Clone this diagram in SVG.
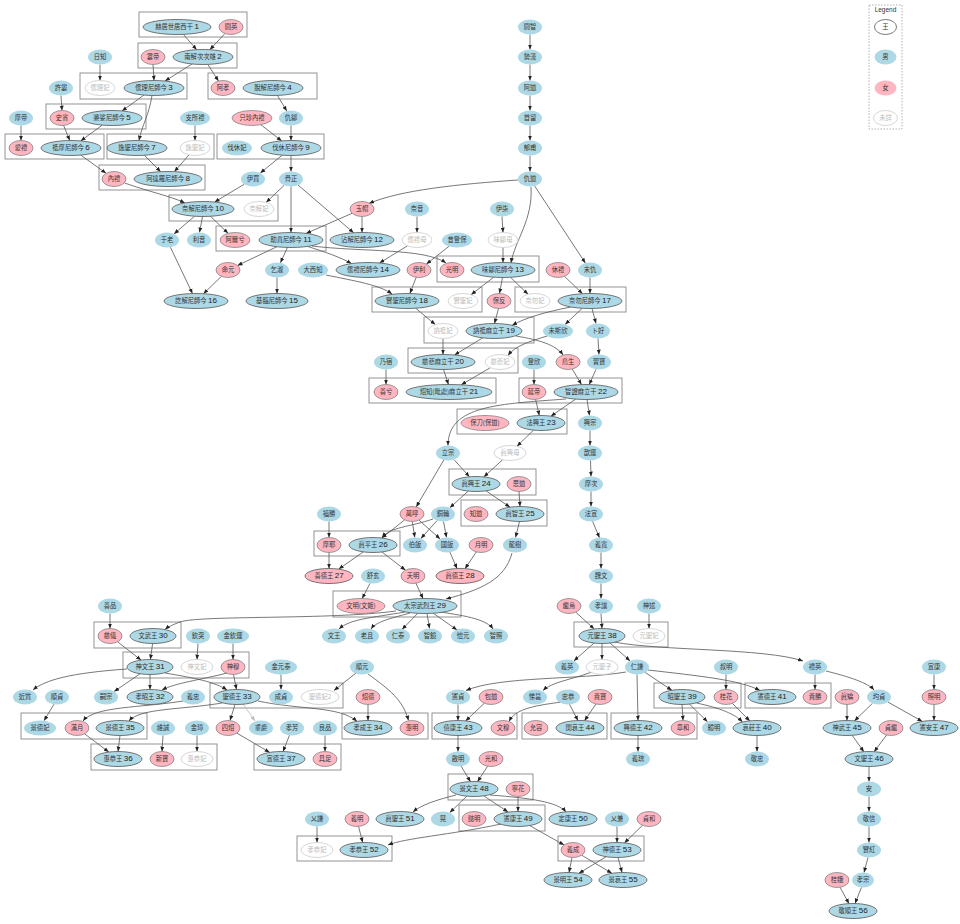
<svg xmlns="http://www.w3.org/2000/svg" width="960" height="924" viewBox="0 0 960 924">
<style>
.b{fill:#add8e6}
.p{fill:#ffb6c1;stroke:#777;stroke-width:0.7}
.k{fill:#add8e6;stroke:#555;stroke-width:0.8}
.kp{fill:#ffb6c1;stroke:#555;stroke-width:0.8}
.u{fill:#fff;stroke:#ccc;stroke-width:0.8}
.lk{fill:#fff;stroke:#555;stroke-width:0.8}
text{font-family:"Noto Sans CJK TC","Noto Sans CJK SC",sans-serif;font-size:6.3px;text-anchor:middle;fill:#333}
.ut{fill:#bbb}
.num{font-family:"Liberation Sans",sans-serif;font-size:8px;fill:#222}
.c{fill:none;stroke:#888;stroke-width:0.9}
.e path{fill:none;stroke:#555;stroke-width:0.8;marker-end:url(#a)}
.e path.g{stroke:#bbb;marker-end:url(#ag)}
</style>
<defs>
<marker id="a" viewBox="0 0 10 10" refX="10" refY="5" markerWidth="5" markerHeight="5" markerUnits="userSpaceOnUse" orient="auto"><path d="M0,1L10,5L0,9z" fill="#222"/></marker>
<marker id="ag" viewBox="0 0 10 10" refX="10" refY="5" markerWidth="5" markerHeight="5" markerUnits="userSpaceOnUse" orient="auto"><path d="M0,1L10,5L0,9z" fill="#bbb"/></marker>
</defs>
<rect width="960" height="924" fill="#fff"/>
<g id="clusters">
<rect class="c" x="139" y="12" width="108" height="25"/>
<rect class="c" x="138" y="43" width="99" height="25"/>
<rect class="c" x="80" y="73" width="107" height="26"/>
<rect class="c" x="208" y="73" width="109" height="26"/>
<rect class="c" x="46" y="104" width="100" height="25"/>
<rect class="c" x="5" y="134" width="99" height="25"/>
<rect class="c" x="107" y="134" width="107" height="25"/>
<rect class="c" x="217" y="134" width="107" height="25"/>
<rect class="c" x="99" y="165" width="106" height="25"/>
<rect class="c" x="169" y="195" width="109" height="26"/>
<rect class="c" x="216" y="226" width="110" height="25"/>
<rect class="c" x="437" y="256" width="102" height="26"/>
<rect class="c" x="372" y="287" width="110" height="25"/>
<rect class="c" x="515" y="287" width="111" height="25"/>
<rect class="c" x="424" y="317" width="110" height="26"/>
<rect class="c" x="408" y="348" width="110" height="25"/>
<rect class="c" x="369" y="378" width="127" height="25"/>
<rect class="c" x="519" y="378" width="103" height="25"/>
<rect class="c" x="457" y="409" width="110" height="25"/>
<rect class="c" x="449" y="469" width="87" height="26"/>
<rect class="c" x="461" y="500" width="86" height="26"/>
<rect class="c" x="314" y="531" width="86" height="25"/>
<rect class="c" x="333" y="591" width="128" height="26"/>
<rect class="c" x="94" y="622" width="87" height="26"/>
<rect class="c" x="574" y="622" width="94" height="25"/>
<rect class="c" x="123" y="652" width="126" height="26"/>
<rect class="c" x="210" y="683" width="133" height="25"/>
<rect class="c" x="654" y="683" width="87" height="25"/>
<rect class="c" x="745" y="683" width="86" height="25"/>
<rect class="c" x="21" y="713" width="126" height="26"/>
<rect class="c" x="342" y="713" width="86" height="26"/>
<rect class="c" x="432" y="713" width="85" height="26"/>
<rect class="c" x="522" y="713" width="85" height="26"/>
<rect class="c" x="611" y="713" width="86" height="26"/>
<rect class="c" x="91" y="744" width="126" height="26"/>
<rect class="c" x="254" y="744" width="87" height="26"/>
<rect class="c" x="448" y="774" width="85" height="26"/>
<rect class="c" x="459" y="805" width="86" height="26"/>
<rect class="c" x="297" y="836" width="95" height="25"/>
<rect class="c" x="558" y="836" width="86" height="25"/>
</g>
<g id="legend">
<rect x="869" y="5" width="33" height="124" fill="none" stroke="#aaa" stroke-width="0.9" stroke-dasharray="1.5,1.5"/>
<text x="885.5" y="12" style="font-family:'Liberation Sans',sans-serif;font-size:6.5px">Legend</text>
<ellipse class="lk" cx="885.5" cy="27" rx="11" ry="7.5"/><text x="885.5" y="29.3">王</text>
<ellipse class="b" cx="885.5" cy="57" rx="11" ry="7.5"/><text x="885.5" y="59.3">男</text>
<ellipse fill="#ffb6c1" cx="885.5" cy="88" rx="11" ry="7.5"/><text x="885.5" y="90.3">女</text>
<ellipse class="u" cx="885.5" cy="118" rx="12" ry="7.5"/><text class="ut" x="885.5" y="120.3">未詳</text>
</g>
<g class="e" id="edges">
<path d="M530,34.5L530,49.5"/>
<path d="M530,64.5L530,80.5"/>
<path d="M530,95.5L530,110.5"/>
<path d="M530,125.5L530,140.5"/>
<path d="M530,155.5L530,171.5"/>
<path d="M183.4,34.4L196.7,49.7"/>
<path d="M225,33.5L209.8,49.7"/>
<path d="M100,64.5L100,80.5"/>
<path d="M153,64.5L154,80.5"/>
<path d="M192,64L165,81"/>
<path d="M207.8,64.4L218.5,81"/>
<path d="M61,95.5L62,110.5"/>
<path d="M144,95L122,111"/>
<path d="M152,95.5C149,115 142,125 139,140.5"/>
<path d="M277.4,95.4L286.8,111"/>
<path d="M21,125.5L21,140.5"/>
<path d="M63.5,125.2L69.8,140.5"/>
<path d="M102.3,125.1L80.7,140.9"/>
<path d="M195,125.5L195,140.5"/>
<path d="M260.8,124.7L281.7,140.9"/>
<path d="M291,125.5L291,140.5"/>
<path d="M80.8,155.1L106.1,173.3"/>
<path d="M144.3,155.3L160.7,171.7"/>
<path d="M189,154.9L174.4,171.6"/>
<path d="M282.2,155.2L260.3,173"/>
<path d="M291,155.5L291,171.5"/>
<path d="M124.6,183C150,192 170,196 184.9,202.9"/>
<path d="M244.3,184.2L214.6,202"/>
<path d="M284.3,185.2L266.1,202.4"/>
<path d="M291,186.5L291,232.5"/>
<path d="M298,185L353.6,232.7"/>
<path d="M518,180C460,184 400,190 369,203.5"/>
<path d="M531,187C533,220 515,240 511,263"/>
<path d="M534.6,185.9L585.4,263.1"/>
<path d="M194.6,216.2L174,233.9"/>
<path d="M202.5,216.5L199.5,232.5"/>
<path d="M210.5,216.3L228.1,233.3"/>
<path d="M352.1,213.3L306.1,233.4"/>
<path d="M362,216.5L362,232.5"/>
<path d="M417,216.5L417,232.5"/>
<path d="M502,216.5L503,232.5"/>
<path d="M276.9,246.7L237.5,265.5"/>
<path d="M287.5,247.4L280.4,262.8"/>
<path d="M307.5,246.4C325,252 340,257 351.5,263.6"/>
<path d="M312,246C360,252 425,248 446,263"/>
<path d="M407.5,245.8L379.5,263"/>
<path d="M449,246.3L426.4,264.1"/>
<path d="M503,247.5L503,262.5"/>
<path d="M221.5,276.3L203.5,293.7"/>
<path d="M170.4,247.2L192.5,293.6"/>
<path d="M277,277.5L277,293.5"/>
<path d="M326,275C355,281 380,285 392,294"/>
<path d="M416.2,277.3L409.9,293.5"/>
<path d="M493.7,277.2L471.1,294.7"/>
<path d="M502.5,277.5L499.5,293.5"/>
<path d="M510.5,277.3L528.1,294.3"/>
<path d="M564.5,276.3L582.5,293.7"/>
<path d="M590,277.5L590,293.5"/>
<path d="M415.7,308.2L435.3,324.6"/>
<path d="M498.5,308.5L494.5,323.5"/>
<path d="M570.8,307C545,312 525,318 512.2,325.3"/>
<path d="M582.3,308.2L565.1,324.4"/>
<path d="M592,308.5L596,323.5"/>
<path d="M443,338.5L443,354.5"/>
<path d="M482.7,337.9L454.5,355"/>
<path d="M516,336C540,340 556,345 563,355"/>
<path d="M547,336C528,342 515,346 508,355.5"/>
<path d="M598,338.5L599,354.5"/>
<path d="M386,369.5L386,384.5"/>
<path d="M443.5,369.5L448.5,384.5"/>
<path d="M490.3,367.7L461.2,384.8"/>
<path d="M534,369.5L534,384.5"/>
<path d="M572.2,369L581.5,384.6"/>
<path d="M596,369.4L589.2,384.6"/>
<path d="M535.6,399.3L539.3,415.5"/>
<path d="M575.7,399.1L550.9,416.2"/>
<path d="M587,399.5L589.5,415.5"/>
<path d="M566,399C500,404 448,405 448,445.5"/>
<path d="M533.6,430.1L517,446.2"/>
<path d="M590,430.5L590,445.5"/>
<path d="M453.9,459.5L469.5,476.8"/>
<path d="M443.8,460L416.2,506.9"/>
<path d="M502.7,459.7L483.8,476.9"/>
<path d="M590.5,460.5L591,476.5"/>
<path d="M468.2,491.1L449.8,507.8"/>
<path d="M486,490.8L510,507.2"/>
<path d="M519,491.5L520,506.5"/>
<path d="M591,491.5L591,506.5"/>
<path d="M329,521.5L329,537.5"/>
<path d="M404.6,519.9L381.8,538"/>
<path d="M412.3,521.5L414.8,537.5"/>
<path d="M418.9,520.1L440.1,538.9"/>
<path d="M433,519C410,527 390,527 382,537.5"/>
<path d="M437.1,520.5L420.9,538.5"/>
<path d="M443.5,521.5L446.5,537.5"/>
<path d="M519.5,521.5L515.5,537.5"/>
<path d="M592.5,521.2L599.5,537.7"/>
<path d="M476.3,551.9L465,568.7"/>
<path d="M449.9,552.1L457.1,568.7"/>
<path d="M329,552.5L329,568.5"/>
<path d="M363.3,551.9L338.7,569.1"/>
<path d="M382,552L405.5,570.2"/>
<path d="M601,552.5L601,568.5"/>
<path d="M370,583.3L362.2,598.6"/>
<path d="M415.9,583.2L423.1,598.7"/>
<path d="M512,553C505,580 480,590 446,599"/>
<path d="M601,583.5L601,598.5"/>
<path d="M110,613.5L110,628.5"/>
<path d="M396,611C330,620 200,615 180,622C172,625 168,627 165,629.5"/>
<path d="M405,612C370,618 350,619 339,629"/>
<path d="M410,613C388,619 376,622 371,629"/>
<path d="M418,613L402,629.5"/>
<path d="M427,613.5L429.5,628.5"/>
<path d="M433,613L457,630"/>
<path d="M440,612C468,616 487,620 493,629"/>
<path d="M575.8,612.2L594.2,629"/>
<path d="M601,613.5L602,628.5"/>
<path d="M649,613.5L649,628.5"/>
<path d="M117.5,641.8L141.1,660.1"/>
<path d="M152.6,643.5L150.4,659.5"/>
<path d="M198,643.5L197,659.5"/>
<path d="M233,643.5L233,659.5"/>
<path d="M594,643L573.9,660.9"/>
<path d="M602,643.5L602,659.5"/>
<path d="M610,643L630.1,660.9"/>
<path d="M614,642C660,651 765,648 803,661"/>
<path d="M281,674.5L281,689.5"/>
<path d="M356,673L334,690.5"/>
<path d="M368,674C390,690 403,700 408.5,720.5"/>
<path d="M127,669C70,673 45,680 33,690"/>
<path d="M140.1,673.8L114.1,691.5"/>
<path d="M150,674.5L150,689.5"/>
<path d="M165,673C195,678 215,682 227,690"/>
<path d="M227,673C200,680 175,683 162,690"/>
<path d="M233.5,674.5L236.5,689.5"/>
<path d="M592,672C570,680 552,682 543,690.5"/>
<path d="M626,672C580,680 500,676 466,690.5"/>
<path d="M645.1,672.4L671.9,690.3"/>
<path d="M648,670C700,676 740,680 760,690.5"/>
<path d="M637,674.5L638,720.5"/>
<path d="M726,674.5L726,689.5"/>
<path d="M815,674.5L815,689.5"/>
<path d="M826,671C850,677 868,683 874,690"/>
<path d="M934,674.5L934,689.5"/>
<path d="M54.1,704.1L44,720.7"/>
<path d="M183,701C140,708 95,706 83,721"/>
<path d="M222,703C180,710 140,708 129,721"/>
<path d="M235,704.5L230,720.5"/>
<path class="g" d="M243,704L255,721"/>
<path d="M258,701C300,710 340,706 357,721.5"/>
<path d="M368,704.5L368,720.5"/>
<path d="M458,704.5L458,720.5"/>
<path d="M484.4,703.2L465.6,720.9"/>
<path d="M562,702C530,706 515,710 509,721.5"/>
<path d="M569.5,704.3L578,720.6"/>
<path d="M596,704L584.5,720.7"/>
<path d="M682,704.5L683,720.5"/>
<path d="M689.4,704.1L707.5,721.7"/>
<path d="M696.5,703C720,708 735,714 742.5,722"/>
<path d="M732.3,703.3L749.9,721"/>
<path d="M847,704.5L847,720.5"/>
<path d="M872.5,703.3L854.4,720.9"/>
<path d="M887.9,702L922.3,721.4"/>
<path d="M934,704.5L934,720.5"/>
<path d="M84.6,733.8L108.8,752"/>
<path d="M120,735.5L118,751.5"/>
<path d="M163,735.5L162,751.5"/>
<path d="M197,735.5L197,751.5"/>
<path d="M236.8,733.1L269.7,752.4"/>
<path d="M289.5,735.2L283,751.6"/>
<path d="M325,735.5L325,751.5"/>
<path d="M458,735.5L458,751.5"/>
<path d="M638,735.5L638,751.5"/>
<path d="M757,735.5L757,751.5"/>
<path d="M852.1,735.2L863.9,751.8"/>
<path d="M886.9,734.6L874.1,751.8"/>
<path d="M461,766L470.5,781.8"/>
<path d="M487.6,766.2L477.5,781.8"/>
<path d="M869,766.5L869,781.5"/>
<path d="M869,796.5L869,811.5"/>
<path d="M869,826.5L869,842.5"/>
<path d="M868,857.5L864,872.5"/>
<path d="M861.5,887.3L855,903.5"/>
<path d="M840,887.2L849,903.7"/>
<path d="M456,795C436,800 421,805 413,812"/>
<path d="M467,796L449.8,812.6"/>
<path d="M484,796L508,812"/>
<path d="M490,795C530,798 558,802 566,812"/>
<path d="M518,796.5L518,811.5"/>
<path d="M317,826.5L317,842.5"/>
<path d="M358.5,826.3L362.7,842.5"/>
<path d="M501,824C450,835 405,838 388,845"/>
<path d="M529.7,825.6L564.1,845"/>
<path d="M617,826.5L617,842.5"/>
<path d="M642.5,825.3L624.4,843"/>
<path d="M572,857.5L569,872.5"/>
<path d="M581.7,855.2L611.9,873.3"/>
<path d="M606.1,856.7L578.9,873.3"/>
<path d="M618,857.5L622,872.5"/>
</g>
<g id="nodes">
<g id="n1"><ellipse class="k" cx="177" cy="27" rx="34" ry="7.5"/><text x="177" y="29.3">赫居世居西干 <tspan class="num">1</tspan></text></g>
<g id="ayeong"><ellipse class="p" cx="231" cy="27" rx="12" ry="7.5"/><text x="231" y="29.3">閼英</text></g>
<g id="alji"><ellipse class="b" cx="530" cy="27" rx="12" ry="7.5"/><text x="530" y="29.3">閼智</text></g>
<g id="ilji"><ellipse class="b" cx="100" cy="57" rx="12" ry="7.5"/><text x="100" y="59.3">日知</text></g>
<g id="unje"><ellipse class="p" cx="153" cy="57" rx="12" ry="7.5"/><text x="153" y="59.3">雲帝</text></g>
<g id="n2"><ellipse class="k" cx="203" cy="57" rx="30" ry="7.5"/><text x="203" y="59.3">南解次次雄 <tspan class="num">2</tspan></text></g>
<g id="sehan"><ellipse class="b" cx="530" cy="57" rx="12" ry="7.5"/><text x="530" y="59.3">勢漢</text></g>
<g id="heoru"><ellipse class="b" cx="61" cy="88" rx="12" ry="7.5"/><text x="61" y="90.3">許婁</text></g>
<g id="yurib"><ellipse class="u" cx="100" cy="88" rx="15" ry="7.5"/><text class="ut" x="100" y="90.3">儒理妃</text></g>
<g id="n3"><ellipse class="k" cx="154" cy="88" rx="30" ry="7.5"/><text x="154" y="90.3">儒理尼師今 <tspan class="num">3</tspan></text></g>
<g id="ahyo"><ellipse class="p" cx="223" cy="88" rx="12" ry="7.5"/><text x="223" y="90.3">阿孝</text></g>
<g id="n4"><ellipse class="k" cx="273" cy="88" rx="30" ry="7.5"/><text x="273" y="90.3">脫解尼師今 <tspan class="num">4</tspan></text></g>
<g id="ado"><ellipse class="b" cx="530" cy="88" rx="12" ry="7.5"/><text x="530" y="90.3">阿道</text></g>
<g id="maje"><ellipse class="b" cx="21" cy="118" rx="12" ry="7.5"/><text x="21" y="120.3">摩帝</text></g>
<g id="saseong"><ellipse class="p" cx="62" cy="118" rx="12" ry="7.5"/><text x="62" y="120.3">史省</text></g>
<g id="n5"><ellipse class="k" cx="112" cy="118" rx="30" ry="7.5"/><text x="112" y="120.3">婆娑尼師今 <tspan class="num">5</tspan></text></g>
<g id="jisorye"><ellipse class="b" cx="195" cy="118" rx="15" ry="7.5"/><text x="195" y="120.3">支所禮</text></g>
<g id="jijin"><ellipse class="p" cx="252" cy="118" rx="20" ry="7.5"/><text x="252" y="120.3">只珍內禮</text></g>
<g id="guchu"><ellipse class="b" cx="291" cy="118" rx="12" ry="7.5"/><text x="291" y="120.3">仇鄒</text></g>
<g id="suryu"><ellipse class="b" cx="530" cy="118" rx="12" ry="7.5"/><text x="530" y="120.3">首留</text></g>
<g id="aerye"><ellipse class="p" cx="21" cy="148" rx="12" ry="7.5"/><text x="21" y="150.3">愛禮</text></g>
<g id="n6"><ellipse class="k" cx="71" cy="148" rx="30" ry="7.5"/><text x="71" y="150.3">祗摩尼師今 <tspan class="num">6</tspan></text></g>
<g id="n7"><ellipse class="k" cx="137" cy="148" rx="30" ry="7.5"/><text x="137" y="150.3">逸聖尼師今 <tspan class="num">7</tspan></text></g>
<g id="ilseongb"><ellipse class="u" cx="195" cy="148" rx="15" ry="7.5"/><text class="ut" x="195" y="150.3">逸聖妃</text></g>
<g id="beolhyub"><ellipse class="b" cx="237" cy="148" rx="15" ry="7.5"/><text x="237" y="150.3">伐休妃</text></g>
<g id="n9"><ellipse class="k" cx="291" cy="148" rx="30" ry="7.5"/><text x="291" y="150.3">伐休尼師今 <tspan class="num">9</tspan></text></g>
<g id="ukbo"><ellipse class="b" cx="530" cy="148" rx="12" ry="7.5"/><text x="530" y="150.3">郁甫</text></g>
<g id="naerye"><ellipse class="p" cx="114" cy="179" rx="12" ry="7.5"/><text x="114" y="181.3">內禮</text></g>
<g id="n8"><ellipse class="k" cx="168" cy="179" rx="34" ry="7.5"/><text x="168" y="181.3">阿達羅尼師今 <tspan class="num">8</tspan></text></g>
<g id="imae"><ellipse class="b" cx="253" cy="179" rx="12" ry="7.5"/><text x="253" y="181.3">伊買</text></g>
<g id="goljeong"><ellipse class="b" cx="291" cy="179" rx="12" ry="7.5"/><text x="291" y="181.3">骨正</text></g>
<g id="gudo"><ellipse class="b" cx="530" cy="179" rx="12" ry="7.5"/><text x="530" y="181.3">仇道</text></g>
<g id="n10"><ellipse class="k" cx="203" cy="209" rx="31" ry="7.5"/><text x="203" y="211.3">奈解尼師今 <tspan class="num">10</tspan></text></g>
<g id="naehaeb"><ellipse class="u" cx="259" cy="209" rx="15" ry="7.5"/><text class="ut" x="259" y="211.3">奈解妃</text></g>
<g id="okmo"><ellipse class="p" cx="362" cy="209" rx="12" ry="7.5"/><text x="362" y="211.3">玉帽</text></g>
<g id="naeeum"><ellipse class="b" cx="417" cy="209" rx="12" ry="7.5"/><text x="417" y="211.3">奈音</text></g>
<g id="ichil"><ellipse class="b" cx="502" cy="209" rx="12" ry="7.5"/><text x="502" y="211.3">伊柒</text></g>
<g id="uro"><ellipse class="b" cx="167" cy="240" rx="12" ry="7.5"/><text x="167" y="242.3">于老</text></g>
<g id="ieum"><ellipse class="b" cx="199" cy="240" rx="12" ry="7.5"/><text x="199" y="242.3">利音</text></g>
<g id="airhye"><ellipse class="p" cx="235" cy="240" rx="15" ry="7.5"/><text x="235" y="242.3">阿爾兮</text></g>
<g id="n11"><ellipse class="k" cx="291" cy="240" rx="32" ry="7.5"/><text x="291" y="242.3">助賁尼師今 <tspan class="num">11</tspan></text></g>
<g id="n12"><ellipse class="k" cx="362" cy="240" rx="32" ry="7.5"/><text x="362" y="242.3">沾解尼師今 <tspan class="num">12</tspan></text></g>
<g id="yuryemo"><ellipse class="u" cx="417" cy="240" rx="15" ry="7.5"/><text class="ut" x="417" y="242.3">儒禮母</text></g>
<g id="seokdeungbo"><ellipse class="b" cx="457" cy="240" rx="15" ry="7.5"/><text x="457" y="242.3">昔登保</text></g>
<g id="michumo"><ellipse class="u" cx="503" cy="240" rx="15" ry="7.5"/><text class="ut" x="503" y="242.3">味鄒母</text></g>
<g id="myeongwon"><ellipse class="p" cx="228" cy="270" rx="12" ry="7.5"/><text x="228" y="272.3">命元</text></g>
<g id="geolsuk"><ellipse class="b" cx="277" cy="270" rx="12" ry="7.5"/><text x="277" y="272.3">乞淑</text></g>
<g id="daeseoji"><ellipse class="b" cx="313" cy="270" rx="15" ry="7.5"/><text x="313" y="272.3">大西知</text></g>
<g id="n14"><ellipse class="k" cx="368" cy="270" rx="32" ry="7.5"/><text x="368" y="272.3">儒禮尼師今 <tspan class="num">14</tspan></text></g>
<g id="iri"><ellipse class="p" cx="419" cy="270" rx="12" ry="7.5"/><text x="419" y="272.3">伊利</text></g>
<g id="gwangmyeong"><ellipse class="p" cx="452" cy="270" rx="12" ry="7.5"/><text x="452" y="272.3">光明</text></g>
<g id="n13"><ellipse class="k" cx="503" cy="270" rx="32" ry="7.5"/><text x="503" y="272.3">味鄒尼師今 <tspan class="num">13</tspan></text></g>
<g id="hyurye"><ellipse class="p" cx="558" cy="270" rx="12" ry="7.5"/><text x="558" y="272.3">休禮</text></g>
<g id="malgu"><ellipse class="b" cx="590" cy="270" rx="12" ry="7.5"/><text x="590" y="272.3">末仇</text></g>
<g id="n16"><ellipse class="k" cx="196" cy="301" rx="32" ry="7.5"/><text x="196" y="303.3">訖解尼師今 <tspan class="num">16</tspan></text></g>
<g id="n15"><ellipse class="k" cx="277" cy="301" rx="31" ry="7.5"/><text x="277" y="303.3">基臨尼師今 <tspan class="num">15</tspan></text></g>
<g id="n18"><ellipse class="k" cx="407" cy="301" rx="32" ry="7.5"/><text x="407" y="303.3">實聖尼師今 <tspan class="num">18</tspan></text></g>
<g id="silseongb"><ellipse class="u" cx="463" cy="301" rx="15" ry="7.5"/><text class="ut" x="463" y="303.3">實聖妃</text></g>
<g id="boban"><ellipse class="p" cx="499" cy="301" rx="12" ry="7.5"/><text x="499" y="303.3">保反</text></g>
<g id="naemulb"><ellipse class="u" cx="535" cy="301" rx="15" ry="7.5"/><text class="ut" x="535" y="303.3">奈勿妃</text></g>
<g id="n17"><ellipse class="k" cx="590" cy="301" rx="32" ry="7.5"/><text x="590" y="303.3">奈勿尼師今 <tspan class="num">17</tspan></text></g>
<g id="nuljib"><ellipse class="u" cx="443" cy="331" rx="15" ry="7.5"/><text class="ut" x="443" y="333.3">訥祗妃</text></g>
<g id="n19"><ellipse class="k" cx="494" cy="331" rx="28" ry="7.5"/><text x="494" y="333.3">訥祗麻立干 <tspan class="num">19</tspan></text></g>
<g id="misaheun"><ellipse class="b" cx="558" cy="331" rx="15" ry="7.5"/><text x="558" y="333.3">未斯欣</text></g>
<g id="bokho"><ellipse class="b" cx="598" cy="331" rx="12" ry="7.5"/><text x="598" y="333.3">卜好</text></g>
<g id="naesuk"><ellipse class="b" cx="386" cy="362" rx="12" ry="7.5"/><text x="386" y="364.3">乃宿</text></g>
<g id="n20"><ellipse class="k" cx="443" cy="362" rx="32" ry="7.5"/><text x="443" y="364.3">慈悲麻立干 <tspan class="num">20</tspan></text></g>
<g id="jabib"><ellipse class="u" cx="500" cy="362" rx="15" ry="7.5"/><text class="ut" x="500" y="364.3">慈悲妃</text></g>
<g id="deungheun"><ellipse class="b" cx="534" cy="362" rx="12" ry="7.5"/><text x="534" y="364.3">登欣</text></g>
<g id="josaeng"><ellipse class="p" cx="568" cy="362" rx="12" ry="7.5"/><text x="568" y="364.3">鳥生</text></g>
<g id="seupbo"><ellipse class="b" cx="599" cy="362" rx="12" ry="7.5"/><text x="599" y="364.3">習寶</text></g>
<g id="seonhye"><ellipse class="p" cx="386" cy="392" rx="12" ry="7.5"/><text x="386" y="394.3">善兮</text></g>
<g id="n21"><ellipse class="k" cx="449" cy="392" rx="43" ry="7.5"/><text x="449" y="394.3">炤知(毗處)麻立干 <tspan class="num">21</tspan></text></g>
<g id="yeonje"><ellipse class="p" cx="534" cy="392" rx="12" ry="7.5"/><text x="534" y="394.3">延帝</text></g>
<g id="n22"><ellipse class="k" cx="586" cy="392" rx="32" ry="7.5"/><text x="586" y="394.3">智證麻立干 <tspan class="num">22</tspan></text></g>
<g id="bodo"><ellipse class="p" cx="485" cy="423" rx="24" ry="7.5"/><text x="485" y="425.3">保刀(保道)</text></g>
<g id="n23"><ellipse class="k" cx="541" cy="423" rx="24" ry="7.5"/><text x="541" y="425.3">法興王 <tspan class="num">23</tspan></text></g>
<g id="heungjong"><ellipse class="b" cx="590" cy="423" rx="12" ry="7.5"/><text x="590" y="425.3">興宗</text></g>
<g id="ipjong"><ellipse class="b" cx="448" cy="453" rx="12" ry="7.5"/><text x="448" y="455.3">立宗</text></g>
<g id="jinheungmo"><ellipse class="u" cx="510" cy="453" rx="16" ry="7.5"/><text class="ut" x="510" y="455.3">眞興母</text></g>
<g id="heumun"><ellipse class="b" cx="590" cy="453" rx="12" ry="7.5"/><text x="590" y="455.3">歆運</text></g>
<g id="n24"><ellipse class="k" cx="476" cy="484" rx="24" ry="7.5"/><text x="476" y="486.3">眞興王 <tspan class="num">24</tspan></text></g>
<g id="sado"><ellipse class="p" cx="519" cy="484" rx="12" ry="7.5"/><text x="519" y="486.3">思道</text></g>
<g id="macha"><ellipse class="b" cx="591" cy="484" rx="12" ry="7.5"/><text x="591" y="486.3">摩次</text></g>
<g id="boksung"><ellipse class="b" cx="329" cy="514" rx="12" ry="7.5"/><text x="329" y="516.3">福勝</text></g>
<g id="manho"><ellipse class="p" cx="412" cy="514" rx="12" ry="7.5"/><text x="412" y="516.3">萬呼</text></g>
<g id="dongnyun"><ellipse class="b" cx="443" cy="514" rx="12" ry="7.5"/><text x="443" y="516.3">銅輪</text></g>
<g id="jido"><ellipse class="p" cx="476" cy="514" rx="12" ry="7.5"/><text x="476" y="516.3">知道</text></g>
<g id="n25"><ellipse class="k" cx="520" cy="514" rx="24" ry="7.5"/><text x="520" y="516.3">眞智王 <tspan class="num">25</tspan></text></g>
<g id="beopseon"><ellipse class="b" cx="591" cy="514" rx="12" ry="7.5"/><text x="591" y="516.3">法宣</text></g>
<g id="maya"><ellipse class="p" cx="329" cy="545" rx="12" ry="7.5"/><text x="329" y="547.3">摩耶</text></g>
<g id="n26"><ellipse class="k" cx="373" cy="545" rx="24" ry="7.5"/><text x="373" y="547.3">眞平王 <tspan class="num">26</tspan></text></g>
<g id="baekban"><ellipse class="b" cx="415" cy="545" rx="12" ry="7.5"/><text x="415" y="547.3">伯飯</text></g>
<g id="gukban"><ellipse class="b" cx="447" cy="545" rx="12" ry="7.5"/><text x="447" y="547.3">國飯</text></g>
<g id="wolmyeong"><ellipse class="p" cx="481" cy="545" rx="12" ry="7.5"/><text x="481" y="547.3">月明</text></g>
<g id="yongsu"><ellipse class="b" cx="515" cy="545" rx="12" ry="7.5"/><text x="515" y="547.3">龍樹</text></g>
<g id="uigwan"><ellipse class="b" cx="601" cy="545" rx="12" ry="7.5"/><text x="601" y="547.3">義寬</text></g>
<g id="n27"><ellipse class="kp" cx="329" cy="576" rx="24" ry="7.5"/><text x="329" y="578.3">善德王 <tspan class="num">27</tspan></text></g>
<g id="seohyeon"><ellipse class="b" cx="373" cy="576" rx="12" ry="7.5"/><text x="373" y="578.3">舒玄</text></g>
<g id="cheonmyeong"><ellipse class="p" cx="413" cy="576" rx="12" ry="7.5"/><text x="413" y="578.3">天明</text></g>
<g id="n28"><ellipse class="kp" cx="460" cy="576" rx="24" ry="7.5"/><text x="460" y="578.3">眞德王 <tspan class="num">28</tspan></text></g>
<g id="wimun"><ellipse class="b" cx="601" cy="576" rx="12" ry="7.5"/><text x="601" y="578.3">魏文</text></g>
<g id="seonpum"><ellipse class="b" cx="110" cy="606" rx="12" ry="7.5"/><text x="110" y="608.3">善品</text></g>
<g id="munmyeong"><ellipse class="p" cx="361" cy="606" rx="24" ry="7.5"/><text x="361" y="608.3">文明(文姬)</text></g>
<g id="n29"><ellipse class="k" cx="425" cy="606" rx="32" ry="7.5"/><text x="425" y="608.3">太宗武烈王 <tspan class="num">29</tspan></text></g>
<g id="gyeo"><ellipse class="p" cx="569" cy="606" rx="12" ry="7.5"/><text x="569" y="608.3">繼烏</text></g>
<g id="hyoyang"><ellipse class="b" cx="601" cy="606" rx="12" ry="7.5"/><text x="601" y="608.3">孝讓</text></g>
<g id="sinsul"><ellipse class="b" cx="649" cy="606" rx="12" ry="7.5"/><text x="649" y="608.3">神述</text></g>
<g id="jaui"><ellipse class="p" cx="110" cy="636" rx="12" ry="7.5"/><text x="110" y="638.3">慈儀</text></g>
<g id="n30"><ellipse class="k" cx="153" cy="636" rx="23" ry="7.5"/><text x="153" y="638.3">文武王 <tspan class="num">30</tspan></text></g>
<g id="heumdol"><ellipse class="b" cx="198" cy="636" rx="12" ry="7.5"/><text x="198" y="638.3">欽突</text></g>
<g id="kimheumun"><ellipse class="b" cx="233" cy="636" rx="16" ry="7.5"/><text x="233" y="638.3">金欽運</text></g>
<g id="munwang"><ellipse class="b" cx="334" cy="636" rx="12" ry="7.5"/><text x="334" y="638.3">文王</text></g>
<g id="nocha"><ellipse class="b" cx="367" cy="636" rx="12" ry="7.5"/><text x="367" y="638.3">老且</text></g>
<g id="intae"><ellipse class="b" cx="398" cy="636" rx="12" ry="7.5"/><text x="398" y="638.3">仁泰</text></g>
<g id="jigyeong"><ellipse class="b" cx="430" cy="636" rx="12" ry="7.5"/><text x="430" y="638.3">智鏡</text></g>
<g id="gaewon"><ellipse class="b" cx="463" cy="636" rx="12" ry="7.5"/><text x="463" y="638.3">愷元</text></g>
<g id="jijo"><ellipse class="b" cx="496" cy="636" rx="12" ry="7.5"/><text x="496" y="638.3">智照</text></g>
<g id="n38"><ellipse class="k" cx="602" cy="636" rx="23" ry="7.5"/><text x="602" y="638.3">元聖王 <tspan class="num">38</tspan></text></g>
<g id="wonseongb"><ellipse class="u" cx="649" cy="636" rx="16" ry="7.5"/><text class="ut" x="649" y="638.3">元聖妃</text></g>
<g id="n31"><ellipse class="k" cx="150" cy="667" rx="23" ry="7.5"/><text x="150" y="669.3">神文王 <tspan class="num">31</tspan></text></g>
<g id="sinmunb"><ellipse class="u" cx="197" cy="667" rx="16" ry="7.5"/><text class="ut" x="197" y="669.3">神文妃</text></g>
<g id="sinmok"><ellipse class="p" cx="233" cy="667" rx="12" ry="7.5"/><text x="233" y="669.3">神穆</text></g>
<g id="wontae"><ellipse class="b" cx="281" cy="667" rx="16" ry="7.5"/><text x="281" y="669.3">金元泰</text></g>
<g id="sunwon"><ellipse class="b" cx="362" cy="667" rx="12" ry="7.5"/><text x="362" y="669.3">順元</text></g>
<g id="uiyeong"><ellipse class="b" cx="567" cy="667" rx="12" ry="7.5"/><text x="567" y="669.3">義英</text></g>
<g id="wonseongja"><ellipse class="u" cx="602" cy="667" rx="16" ry="7.5"/><text class="ut" x="602" y="669.3">元聖子</text></g>
<g id="ingyeom"><ellipse class="b" cx="637" cy="667" rx="12" ry="7.5"/><text x="637" y="669.3">仁謙</text></g>
<g id="sukmyeong"><ellipse class="b" cx="726" cy="667" rx="12" ry="7.5"/><text x="726" y="669.3">叔明</text></g>
<g id="yeyeong"><ellipse class="b" cx="815" cy="667" rx="12" ry="7.5"/><text x="815" y="669.3">禮英</text></g>
<g id="seongang"><ellipse class="b" cx="934" cy="667" rx="12" ry="7.5"/><text x="934" y="669.3">宣康</text></g>
<g id="geunjil"><ellipse class="b" cx="25" cy="697" rx="12" ry="7.5"/><text x="25" y="699.3">近質</text></g>
<g id="sunjeong"><ellipse class="b" cx="57" cy="697" rx="12" ry="7.5"/><text x="57" y="699.3">順貞</text></g>
<g id="sajong"><ellipse class="b" cx="106" cy="697" rx="12" ry="7.5"/><text x="106" y="699.3">嗣宗</text></g>
<g id="n32"><ellipse class="k" cx="150" cy="697" rx="23" ry="7.5"/><text x="150" y="699.3">孝昭王 <tspan class="num">32</tspan></text></g>
<g id="uichung"><ellipse class="b" cx="193" cy="697" rx="12" ry="7.5"/><text x="193" y="699.3">義忠</text></g>
<g id="n33"><ellipse class="k" cx="237" cy="697" rx="23" ry="7.5"/><text x="237" y="699.3">聖德王 <tspan class="num">33</tspan></text></g>
<g id="seongjeong"><ellipse class="b" cx="281" cy="697" rx="12" ry="7.5"/><text x="281" y="699.3">成貞</text></g>
<g id="seongdeokb2"><ellipse class="u" cx="320" cy="697" rx="19" ry="7.5"/><text class="ut" x="320" y="699.3">聖德妃2</text></g>
<g id="sodeok"><ellipse class="p" cx="368" cy="697" rx="12" ry="7.5"/><text x="368" y="699.3">炤德</text></g>
<g id="heonjeong"><ellipse class="b" cx="458" cy="697" rx="12" ry="7.5"/><text x="458" y="699.3">憲貞</text></g>
<g id="podo"><ellipse class="p" cx="491" cy="697" rx="12" ry="7.5"/><text x="491" y="699.3">包道</text></g>
<g id="jeong"><ellipse class="b" cx="535" cy="697" rx="12" ry="7.5"/><text x="535" y="699.3">悌邕</text></g>
<g id="chunggong"><ellipse class="b" cx="568" cy="697" rx="12" ry="7.5"/><text x="568" y="699.3">忠恭</text></g>
<g id="gwibo"><ellipse class="p" cx="600" cy="697" rx="12" ry="7.5"/><text x="600" y="699.3">貴寶</text></g>
<g id="n39"><ellipse class="k" cx="682" cy="697" rx="23" ry="7.5"/><text x="682" y="699.3">昭聖王 <tspan class="num">39</tspan></text></g>
<g id="gyehwa"><ellipse class="p" cx="726" cy="697" rx="12" ry="7.5"/><text x="726" y="699.3">桂花</text></g>
<g id="n41"><ellipse class="k" cx="772" cy="697" rx="24" ry="7.5"/><text x="772" y="699.3">憲德王 <tspan class="num">41</tspan></text></g>
<g id="gwiseung"><ellipse class="p" cx="815" cy="697" rx="12" ry="7.5"/><text x="815" y="699.3">貴勝</text></g>
<g id="jingyo"><ellipse class="p" cx="847" cy="697" rx="12" ry="7.5"/><text x="847" y="699.3">眞矯</text></g>
<g id="gyunjeong"><ellipse class="b" cx="879" cy="697" rx="12" ry="7.5"/><text x="879" y="699.3">均貞</text></g>
<g id="jomyeong"><ellipse class="p" cx="934" cy="697" rx="12" ry="7.5"/><text x="934" y="699.3">照明</text></g>
<g id="gyeongdeokb"><ellipse class="b" cx="40" cy="728" rx="16" ry="7.5"/><text x="40" y="730.3">景德妃</text></g>
<g id="manwol"><ellipse class="p" cx="77" cy="728" rx="12" ry="7.5"/><text x="77" y="730.3">滿月</text></g>
<g id="n35"><ellipse class="k" cx="120" cy="728" rx="24" ry="7.5"/><text x="120" y="730.3">景德王 <tspan class="num">35</tspan></text></g>
<g id="yuseong"><ellipse class="b" cx="163" cy="728" rx="12" ry="7.5"/><text x="163" y="730.3">維誠</text></g>
<g id="kimjang"><ellipse class="b" cx="197" cy="728" rx="12" ry="7.5"/><text x="197" y="730.3">金璋</text></g>
<g id="sajo"><ellipse class="p" cx="228" cy="728" rx="12" ry="7.5"/><text x="228" y="730.3">四炤</text></g>
<g id="junggyeong"><ellipse class="b" cx="261" cy="728" rx="12" ry="7.5"/><text x="261" y="730.3">重慶</text></g>
<g id="hyobang"><ellipse class="b" cx="292" cy="728" rx="12" ry="7.5"/><text x="292" y="730.3">孝芳</text></g>
<g id="yangpum"><ellipse class="b" cx="325" cy="728" rx="12" ry="7.5"/><text x="325" y="730.3">良品</text></g>
<g id="n34"><ellipse class="k" cx="368" cy="728" rx="24" ry="7.5"/><text x="368" y="730.3">孝成王 <tspan class="num">34</tspan></text></g>
<g id="hyemyeong"><ellipse class="p" cx="412" cy="728" rx="12" ry="7.5"/><text x="412" y="730.3">惠明</text></g>
<g id="n43"><ellipse class="k" cx="458" cy="728" rx="24" ry="7.5"/><text x="458" y="730.3">僖康王 <tspan class="num">43</tspan></text></g>
<g id="munmok"><ellipse class="p" cx="503" cy="728" rx="12" ry="7.5"/><text x="503" y="730.3">文穆</text></g>
<g id="yunyong"><ellipse class="p" cx="536" cy="728" rx="12" ry="7.5"/><text x="536" y="730.3">允容</text></g>
<g id="n44"><ellipse class="k" cx="580" cy="728" rx="24" ry="7.5"/><text x="580" y="730.3">閔哀王 <tspan class="num">44</tspan></text></g>
<g id="n42"><ellipse class="k" cx="638" cy="728" rx="24" ry="7.5"/><text x="638" y="730.3">興德王 <tspan class="num">42</tspan></text></g>
<g id="janghwa"><ellipse class="p" cx="683" cy="728" rx="12" ry="7.5"/><text x="683" y="730.3">章和</text></g>
<g id="chemyeong"><ellipse class="b" cx="714" cy="728" rx="12" ry="7.5"/><text x="714" y="730.3">體明</text></g>
<g id="n40"><ellipse class="k" cx="757" cy="728" rx="24" ry="7.5"/><text x="757" y="730.3">哀莊王 <tspan class="num">40</tspan></text></g>
<g id="n45"><ellipse class="k" cx="847" cy="728" rx="24" ry="7.5"/><text x="847" y="730.3">神武王 <tspan class="num">45</tspan></text></g>
<g id="jeonggye"><ellipse class="p" cx="891" cy="728" rx="12" ry="7.5"/><text x="891" y="730.3">貞繼</text></g>
<g id="n47"><ellipse class="k" cx="934" cy="728" rx="24" ry="7.5"/><text x="934" y="730.3">憲安王 <tspan class="num">47</tspan></text></g>
<g id="n36"><ellipse class="k" cx="118" cy="759" rx="24" ry="7.5"/><text x="118" y="761.3">惠恭王 <tspan class="num">36</tspan></text></g>
<g id="sinbo"><ellipse class="p" cx="162" cy="759" rx="12" ry="7.5"/><text x="162" y="761.3">新寶</text></g>
<g id="hyegongb"><ellipse class="u" cx="197" cy="759" rx="16" ry="7.5"/><text class="ut" x="197" y="761.3">惠恭妃</text></g>
<g id="n37"><ellipse class="k" cx="281" cy="759" rx="24" ry="7.5"/><text x="281" y="761.3">宣德王 <tspan class="num">37</tspan></text></g>
<g id="gujok"><ellipse class="p" cx="325" cy="759" rx="12" ry="7.5"/><text x="325" y="761.3">具足</text></g>
<g id="gyemyeong"><ellipse class="b" cx="458" cy="759" rx="12" ry="7.5"/><text x="458" y="761.3">啟明</text></g>
<g id="gwanghwa"><ellipse class="p" cx="491" cy="759" rx="12" ry="7.5"/><text x="491" y="761.3">光和</text></g>
<g id="uijong"><ellipse class="b" cx="638" cy="759" rx="12" ry="7.5"/><text x="638" y="761.3">義琮</text></g>
<g id="gyeongchung"><ellipse class="b" cx="757" cy="759" rx="12" ry="7.5"/><text x="757" y="761.3">敬忠</text></g>
<g id="n46"><ellipse class="k" cx="869" cy="759" rx="24" ry="7.5"/><text x="869" y="761.3">文聖王 <tspan class="num">46</tspan></text></g>
<g id="n48"><ellipse class="k" cx="474" cy="789" rx="24" ry="7.5"/><text x="474" y="791.3">景文王 <tspan class="num">48</tspan></text></g>
<g id="yeonghwa"><ellipse class="p" cx="518" cy="789" rx="12" ry="7.5"/><text x="518" y="791.3">寧花</text></g>
<g id="an"><ellipse class="b" cx="869" cy="789" rx="12" ry="7.5"/><text x="869" y="791.3">安</text></g>
<g id="yegyeom"><ellipse class="b" cx="317" cy="819" rx="12" ry="7.5"/><text x="317" y="821.3">乂謙</text></g>
<g id="uimyeong"><ellipse class="p" cx="357" cy="819" rx="12" ry="7.5"/><text x="357" y="821.3">義明</text></g>
<g id="n51"><ellipse class="k" cx="400" cy="819" rx="24" ry="7.5"/><text x="400" y="821.3">眞聖王 <tspan class="num">51</tspan></text></g>
<g id="hwang"><ellipse class="b" cx="443" cy="819" rx="12" ry="7.5"/><text x="443" y="821.3">晃</text></g>
<g id="uimyeong2"><ellipse class="p" cx="474" cy="819" rx="12" ry="7.5"/><text x="474" y="821.3">懿明</text></g>
<g id="n49"><ellipse class="k" cx="518" cy="819" rx="24" ry="7.5"/><text x="518" y="821.3">憲康王 <tspan class="num">49</tspan></text></g>
<g id="n50"><ellipse class="k" cx="573" cy="819" rx="24" ry="7.5"/><text x="573" y="821.3">定康王 <tspan class="num">50</tspan></text></g>
<g id="yegyeom2"><ellipse class="b" cx="617" cy="819" rx="12" ry="7.5"/><text x="617" y="821.3">乂兼</text></g>
<g id="jeonghwa"><ellipse class="p" cx="649" cy="819" rx="12" ry="7.5"/><text x="649" y="821.3">貞和</text></g>
<g id="gyeongsin"><ellipse class="b" cx="869" cy="819" rx="12" ry="7.5"/><text x="869" y="821.3">敬信</text></g>
<g id="hyogongb"><ellipse class="u" cx="317" cy="850" rx="16" ry="7.5"/><text class="ut" x="317" y="852.3">孝恭妃</text></g>
<g id="n52"><ellipse class="k" cx="364" cy="850" rx="24" ry="7.5"/><text x="364" y="852.3">孝恭王 <tspan class="num">52</tspan></text></g>
<g id="uiseong"><ellipse class="p" cx="573" cy="850" rx="12" ry="7.5"/><text x="573" y="852.3">義成</text></g>
<g id="n53"><ellipse class="k" cx="617" cy="850" rx="24" ry="7.5"/><text x="617" y="852.3">神德王 <tspan class="num">53</tspan></text></g>
<g id="silhong"><ellipse class="b" cx="869" cy="850" rx="12" ry="7.5"/><text x="869" y="852.3">實紅</text></g>
<g id="n54"><ellipse class="k" cx="568" cy="880" rx="24" ry="7.5"/><text x="568" y="882.3">景明王 <tspan class="num">54</tspan></text></g>
<g id="n55"><ellipse class="k" cx="623" cy="880" rx="24" ry="7.5"/><text x="623" y="882.3">景哀王 <tspan class="num">55</tspan></text></g>
<g id="gyea"><ellipse class="p" cx="837" cy="880" rx="12" ry="7.5"/><text x="837" y="882.3">桂娥</text></g>
<g id="hyojong"><ellipse class="b" cx="863" cy="880" rx="11" ry="7.5"/><text x="863" y="882.3">孝宗</text></g>
<g id="n56"><ellipse class="k" cx="853" cy="911" rx="24" ry="7.5"/><text x="853" y="913.3">敬順王 <tspan class="num">56</tspan></text></g>
</g>
</svg>
